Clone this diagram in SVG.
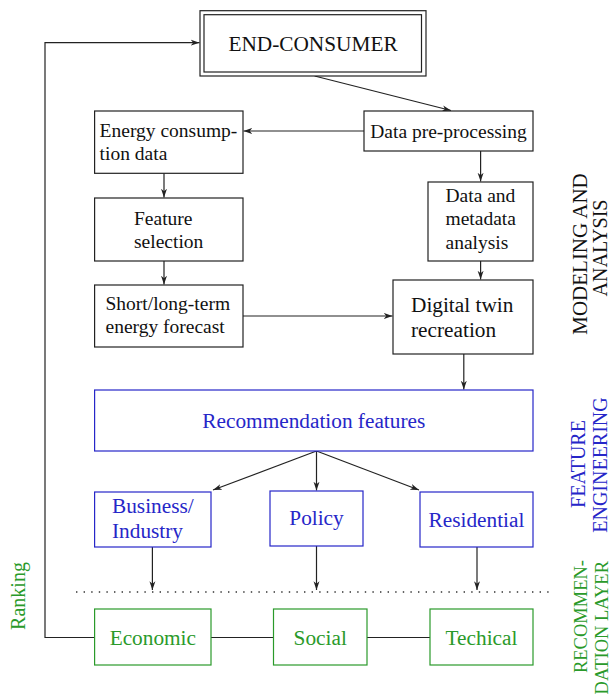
<svg xmlns="http://www.w3.org/2000/svg" width="612" height="699" viewBox="0 0 612 699">
  <style>
    .box { fill: #fff; stroke: #222; stroke-width: 1.2; }
    .bbox { fill: #fff; stroke: #2626c8; stroke-width: 1.2; }
    .gbox { fill: #fff; stroke: #2a9a2a; stroke-width: 1.2; }
    text { font-family: "Liberation Serif", "Times New Roman", serif; }
    .t { font-size: 19.5px; fill: #111; }
    .tl { font-size: 21.3px; fill: #111; }
    .tb { font-size: 21.3px; fill: #2626c8; }
    .tg { font-size: 21.3px; fill: #2a9a2a; }
    .side { font-size: 20px; }
    .c { text-anchor: middle; }
    .wire { fill: none; stroke: #222; stroke-width: 1.2; }
    .dots { fill: none; stroke: #333; stroke-width: 1.4; stroke-dasharray: 1.4 6.2; }
  </style>
  <defs>
    <marker id="arr" viewBox="0 0 10 8" refX="10" refY="4" markerWidth="9" markerHeight="7" orient="auto" markerUnits="userSpaceOnUse">
      <path d="M0,0.6 L10,4 L0,7.4 L2.8,4 z" fill="#222"/>
    </marker>
  </defs>

  <!-- connectors -->
  <g id="connectors">
    <path class="wire" d="M94.6,637.5 H45 V42.7 H199.5" marker-end="url(#arr)"/>
    <path class="wire" d="M314.6,76 L451,110.5" marker-end="url(#arr)"/>
    <path class="wire" d="M364,131 H243.5" marker-end="url(#arr)"/>
    <path class="wire" d="M480.6,151 V181.5" marker-end="url(#arr)"/>
    <path class="wire" d="M164,173.3 V197.5" marker-end="url(#arr)"/>
    <path class="wire" d="M164,261 V284.5" marker-end="url(#arr)"/>
    <path class="wire" d="M480.6,261 V279.5" marker-end="url(#arr)"/>
    <path class="wire" d="M243,316 H392.5" marker-end="url(#arr)"/>
    <path class="wire" d="M463.8,354 V389.5" marker-end="url(#arr)"/>
    <path class="wire" d="M316.5,451 L213,490" marker-end="url(#arr)"/>
    <path class="wire" d="M316.5,451 V490.5" marker-end="url(#arr)"/>
    <path class="wire" d="M316.5,451 L419,490" marker-end="url(#arr)"/>
    <path class="wire" d="M152.4,547 V590" marker-end="url(#arr)"/>
    <path class="wire" d="M316.5,546 V590" marker-end="url(#arr)"/>
    <path class="wire" d="M477,547 V590" marker-end="url(#arr)"/>
    <path class="wire" d="M211,637.5 H273.5 M367,637.5 H430"/>
    <path class="dots" d="M76,592 H549"/>
  </g>

  <!-- modeling and analysis -->
  <g id="end-consumer">
    <rect class="box" x="200" y="10.7" width="226" height="65.3"/>
    <rect class="box" x="204" y="14.7" width="217.5" height="57.3"/>
    <text class="tl c" x="313" y="51">END-CONSUMER</text>
  </g>
  <g id="data-preprocessing">
    <rect class="box" x="364" y="111" width="169" height="40"/>
    <text class="t c" x="448.5" y="137.5">Data pre-processing</text>
  </g>
  <g id="energy-consumption">
    <rect class="box" x="94.6" y="111" width="148.4" height="62.3"/>
    <text class="t" x="99.6" y="137">Energy consump-</text>
    <text class="t" x="99.6" y="160.3">tion data</text>
  </g>
  <g id="feature-selection">
    <rect class="box" x="94.6" y="198" width="148.4" height="63"/>
    <text class="t" x="134" y="224.5">Feature</text>
    <text class="t" x="134" y="247.8">selection</text>
  </g>
  <g id="energy-forecast">
    <rect class="box" x="94.6" y="285" width="148.4" height="62"/>
    <text class="t" x="105.5" y="309.5">Short/long-term</text>
    <text class="t" x="105.5" y="332.8">energy forecast</text>
  </g>
  <g id="metadata-analysis">
    <rect class="box" x="428" y="182" width="105" height="79"/>
    <text class="t" x="445.5" y="202">Data and</text>
    <text class="t" x="445.5" y="225.3">metadata</text>
    <text class="t" x="445.5" y="248.6">analysis</text>
  </g>
  <g id="digital-twin">
    <rect class="box" x="393" y="280" width="140" height="74"/>
    <text class="tl" x="411" y="311.7">Digital twin</text>
    <text class="tl" x="411" y="336.7">recreation</text>
  </g>

  <!-- feature engineering -->
  <g id="recommendation-features">
    <rect class="bbox" x="94.6" y="390" width="438.4" height="61"/>
    <text class="tb c" x="313.8" y="428">Recommendation features</text>
  </g>
  <g id="business-industry">
    <rect class="bbox" x="94.6" y="492" width="116.4" height="55"/>
    <text class="tb" x="112" y="512.5">Business/</text>
    <text class="tb" x="112" y="537.5">Industry</text>
  </g>
  <g id="policy">
    <rect class="bbox" x="270" y="491" width="93" height="55"/>
    <text class="tb c" x="316.5" y="525">Policy</text>
  </g>
  <g id="residential">
    <rect class="bbox" x="420" y="492" width="113" height="55"/>
    <text class="tb c" x="476.5" y="527">Residential</text>
  </g>

  <!-- recommendation layer -->
  <g id="economic">
    <rect class="gbox" x="94.6" y="609" width="116.4" height="56"/>
    <text class="tg c" x="152.8" y="645">Economic</text>
  </g>
  <g id="social">
    <rect class="gbox" x="273.5" y="609" width="93.5" height="56"/>
    <text class="tg c" x="320.2" y="645">Social</text>
  </g>
  <g id="techical">
    <rect class="gbox" x="430" y="609" width="103" height="56"/>
    <text class="tg c" x="481.5" y="645">Techical</text>
  </g>

  <!-- side labels -->
  <g id="labels">
    <text class="side c" fill="#2a9a2a" transform="translate(25,596) rotate(-90)">Ranking</text>
    <text class="side c" fill="#111" font-size="21" style="font-size:21px" transform="translate(587,254) rotate(-90)">MODELING AND</text>
    <text class="side c" fill="#111" transform="translate(607,248) rotate(-90)">ANALYSIS</text>
    <text class="side c" fill="#2626c8" transform="translate(585,464) rotate(-90)">FEATURE</text>
    <text class="side c" fill="#2626c8" transform="translate(607,465) rotate(-90)">ENGINEERING</text>
    <text class="side" fill="#2a9a2a" style="font-size:18.5px" text-anchor="end" transform="translate(587,560) rotate(-90)">RECOMMEN-</text>
    <text class="side" fill="#2a9a2a" style="font-size:18.5px" text-anchor="end" transform="translate(608,561) rotate(-90)">DATION LAYER</text>
  </g>
</svg>
